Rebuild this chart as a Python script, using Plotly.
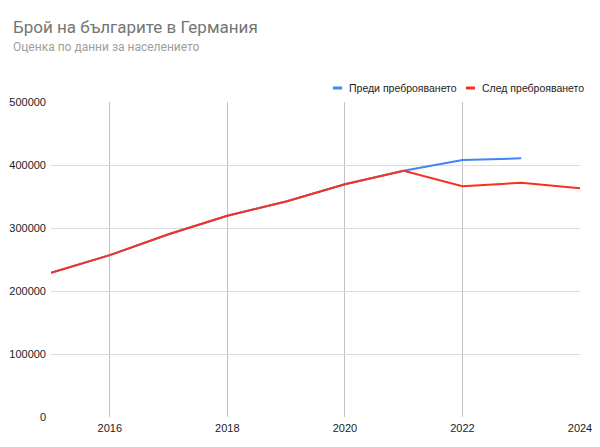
import plotly.graph_objects as go

years = [2015, 2016, 2017, 2018, 2019, 2020, 2021, 2022, 2023, 2024]
before_census = [229000, 257000, 290000, 319500, 342000, 369300, 391000, 408000, 410600, None]
after_census = [229000, 257000, 290000, 319500, 342000, 369300, 391000, 366200, 371900, 363000]

series_names = ["Преди преброяването", "След преброяването"]
colors = ["#4285F4", "#F8301E"]

title_text = "Брой на българите в Германия"
subtitle_text = "Оценка по данни за населението"

y_ticks = [0, 100000, 200000, 300000, 400000, 500000]
x_ticks = [2016, 2018, 2020, 2022, 2024]

# page has an 8px body margin; figure is offset by it
OFF = 8
W, H = 592, 431
L, R, T = 51 - OFF, 20, 102 - OFF
pw, ph = 529, 315
B = H - T - ph

def px_x(p):
    return (p - OFF - L) / pw

def px_y(p):
    return (T + ph - (p - OFF)) / ph

fig = go.Figure()
fig.add_trace(go.Scatter(x=years, y=before_census, mode="lines", name=series_names[0],
                         line=dict(color=colors[0], width=2), showlegend=False,
                         connectgaps=False))
fig.add_trace(go.Scatter(x=years, y=after_census, mode="lines", name=series_names[1],
                         line=dict(color=colors[1], width=2), showlegend=False))

annotations = [
    dict(text=title_text, x=px_x(11), y=px_y(27), xref="paper", yref="paper",
         xanchor="left", yanchor="middle", showarrow=False,
         font=dict(family="Roboto, Arial", size=17, color="#757575")),
    dict(text=subtitle_text, x=px_x(11), y=px_y(47), xref="paper", yref="paper",
         xanchor="left", yanchor="middle", showarrow=False,
         font=dict(family="Roboto, Arial", size=12, color="#9e9e9e")),
]
shapes = []
legend_items = [(333, 342, 347), (466, 475, 480)]
for (x0, x1, xt), name, c in zip(legend_items, series_names, colors):
    shapes.append(dict(type="line", xref="paper", yref="paper",
                       x0=px_x(x0), x1=px_x(x1), y0=px_y(88), y1=px_y(88),
                       line=dict(color=c, width=3)))
    annotations.append(dict(text=name, x=px_x(xt), y=px_y(88), xref="paper", yref="paper",
                            xanchor="left", yanchor="middle", showarrow=False,
                            font=dict(family="Liberation Sans, Arial", size=10.5, color="#222222")))

fig.update_layout(
    width=W, height=H,
    margin=dict(l=L, r=R, t=T, b=B, pad=0, autoexpand=False),
    paper_bgcolor="white", plot_bgcolor="white",
    annotations=annotations, shapes=shapes,
    showlegend=False,
    xaxis=dict(range=[2015, 2024], tickvals=x_ticks, ticktext=[str(v) for v in x_ticks],
               showgrid=True, gridcolor="#c2c2c2", gridwidth=1, zeroline=False,
               showline=False, ticks="", ticklen=0, automargin=False, ticklabelstandoff=3,
               tickfont=dict(family="Liberation Sans, Arial", size=11, color="#222222")),
    yaxis=dict(range=[0, 500000], tickvals=y_ticks, ticktext=[str(v) for v in y_ticks],
               showgrid=True, gridcolor="#dcdcdc", gridwidth=1, zeroline=False,
               showline=False, ticks="", ticklabelstandoff=4, automargin=False,
               tickfont=dict(family="Liberation Sans, Arial", size=11, color="#222222")),
)

fig.write_html("out.html")
